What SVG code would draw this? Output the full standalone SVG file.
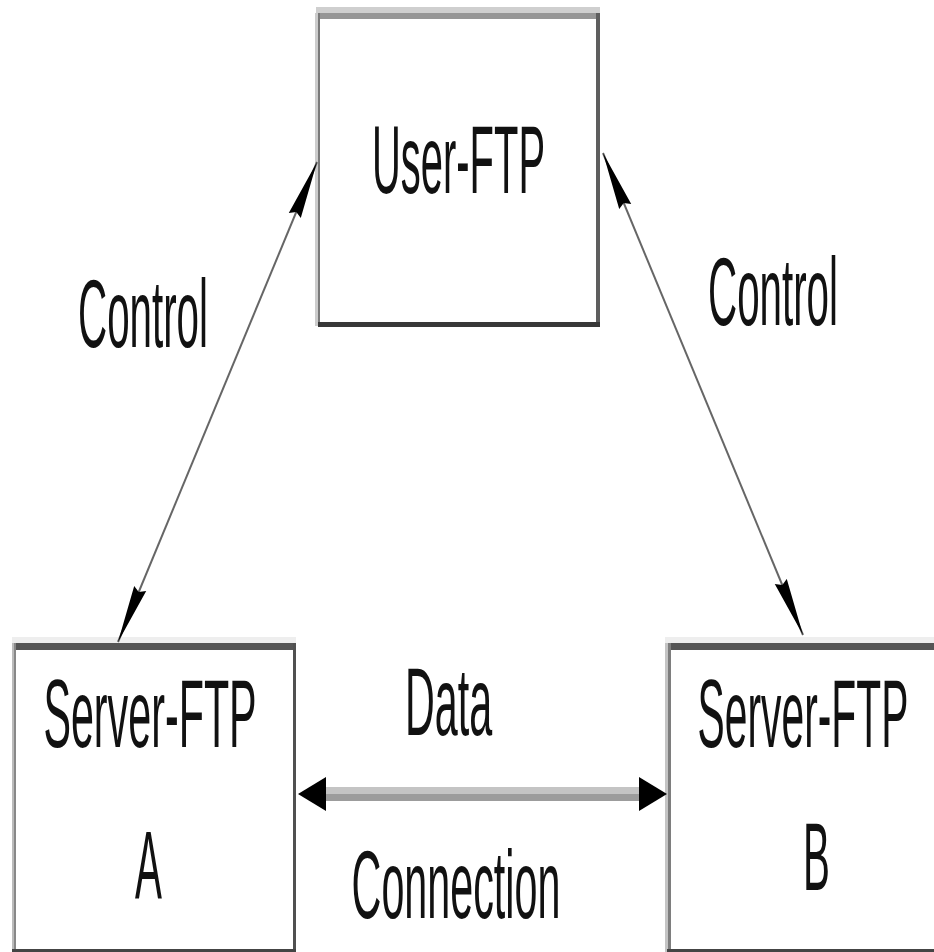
<svg xmlns="http://www.w3.org/2000/svg" width="934" height="952" viewBox="0 0 934 952">
  <style>
    .lbl { font-family: "Liberation Sans", Arial, sans-serif; font-size: 96px; fill: #111; text-anchor: middle; }
    .ctl { stroke: #666; stroke-width: 2; fill: none; }
  </style>
  <defs>
    <marker id="spear" markerUnits="userSpaceOnUse" markerWidth="60" markerHeight="16" refX="58" refY="7" orient="auto-start-reverse">
      <path d="M0,0.5 L58,7 L0,13.5 L4,7 Z" fill="#000"/>
    </marker>
    <marker id="wedge" markerUnits="userSpaceOnUse" markerWidth="30" markerHeight="36" refX="28" refY="17" orient="auto-start-reverse">
      <path d="M0,0 L28,17 L0,34 Z" fill="#000"/>
    </marker>
  </defs>
  <rect width="934" height="952" fill="#fff"/>

  <!-- User-FTP -->
  <g id="user-ftp">
    <rect x="316" y="7" width="284" height="6" fill="#cfcfcf"/>
    <rect x="316" y="13" width="284" height="6" fill="#969696"/>
    <rect x="315" y="13" width="3" height="313" fill="#cccccc"/>
    <rect x="318" y="13" width="2" height="313" fill="#7a7a7a"/>
    <rect x="596" y="13" width="4" height="313" fill="#5e5e5e"/>
    <rect x="318" y="322" width="282" height="5" fill="#383838"/>
    <text class="lbl" transform="translate(458.5,193) scale(0.416,1)">User-FTP</text>
  </g>

  <!-- Server-FTP A -->
  <g id="server-a">
    <rect x="12" y="637" width="284" height="6" fill="#eeeeee"/>
    <rect x="12" y="643" width="284" height="7" fill="#555555"/>
    <rect x="12" y="643" width="2" height="309" fill="#bbbbbb"/>
    <rect x="14" y="643" width="2" height="309" fill="#888888"/>
    <rect x="293" y="643" width="3" height="309" fill="#505050"/>
    <rect x="12" y="949" width="284" height="3" fill="#444444"/>
    <text class="lbl" transform="translate(150,747) scale(0.43,1)">Server-FTP</text>
    <text class="lbl" transform="translate(148.5,898) scale(0.42,1)">A</text>
  </g>

  <!-- Server-FTP B -->
  <g id="server-b">
    <rect x="665" y="637" width="269" height="6" fill="#eeeeee"/>
    <rect x="667" y="643" width="267" height="7" fill="#555555"/>
    <rect x="665" y="643" width="3" height="309" fill="#c4c4c4"/>
    <rect x="668" y="643" width="3" height="309" fill="#7e7e7e"/>
    <rect x="667" y="949" width="267" height="3" fill="#444444"/>
    <text class="lbl" transform="translate(803,747) scale(0.425,1)">Server-FTP</text>
    <text class="lbl" transform="translate(816.5,890) scale(0.42,1)">B</text>
  </g>

  <!-- connectors -->
  <g id="connectors">
    <line class="ctl" x1="118" y1="642" x2="317" y2="162" marker-start="url(#spear)" marker-end="url(#spear)"/>
    <line class="ctl" x1="603" y1="153" x2="803" y2="635" marker-start="url(#spear)" marker-end="url(#spear)"/>
    <!-- two-tone data bar between the arrowheads -->
    <rect x="318" y="787" width="330" height="7" fill="#c4c4c4"/>
    <rect x="318" y="794" width="330" height="7" fill="#9c9c9c"/>
    <line x1="298" y1="794" x2="667" y2="794" stroke="none" marker-start="url(#wedge)" marker-end="url(#wedge)"/>
  </g>

  <!-- connector labels -->
  <g id="labels">
    <text class="lbl" transform="translate(143,347) scale(0.42,1)">Control</text>
    <text class="lbl" transform="translate(773,325) scale(0.42,1)">Control</text>
    <text class="lbl" transform="translate(448.5,735) scale(0.43,1)">Data</text>
    <text class="lbl" transform="translate(456,918) scale(0.43,1)">Connection</text>
  </g>
</svg>
